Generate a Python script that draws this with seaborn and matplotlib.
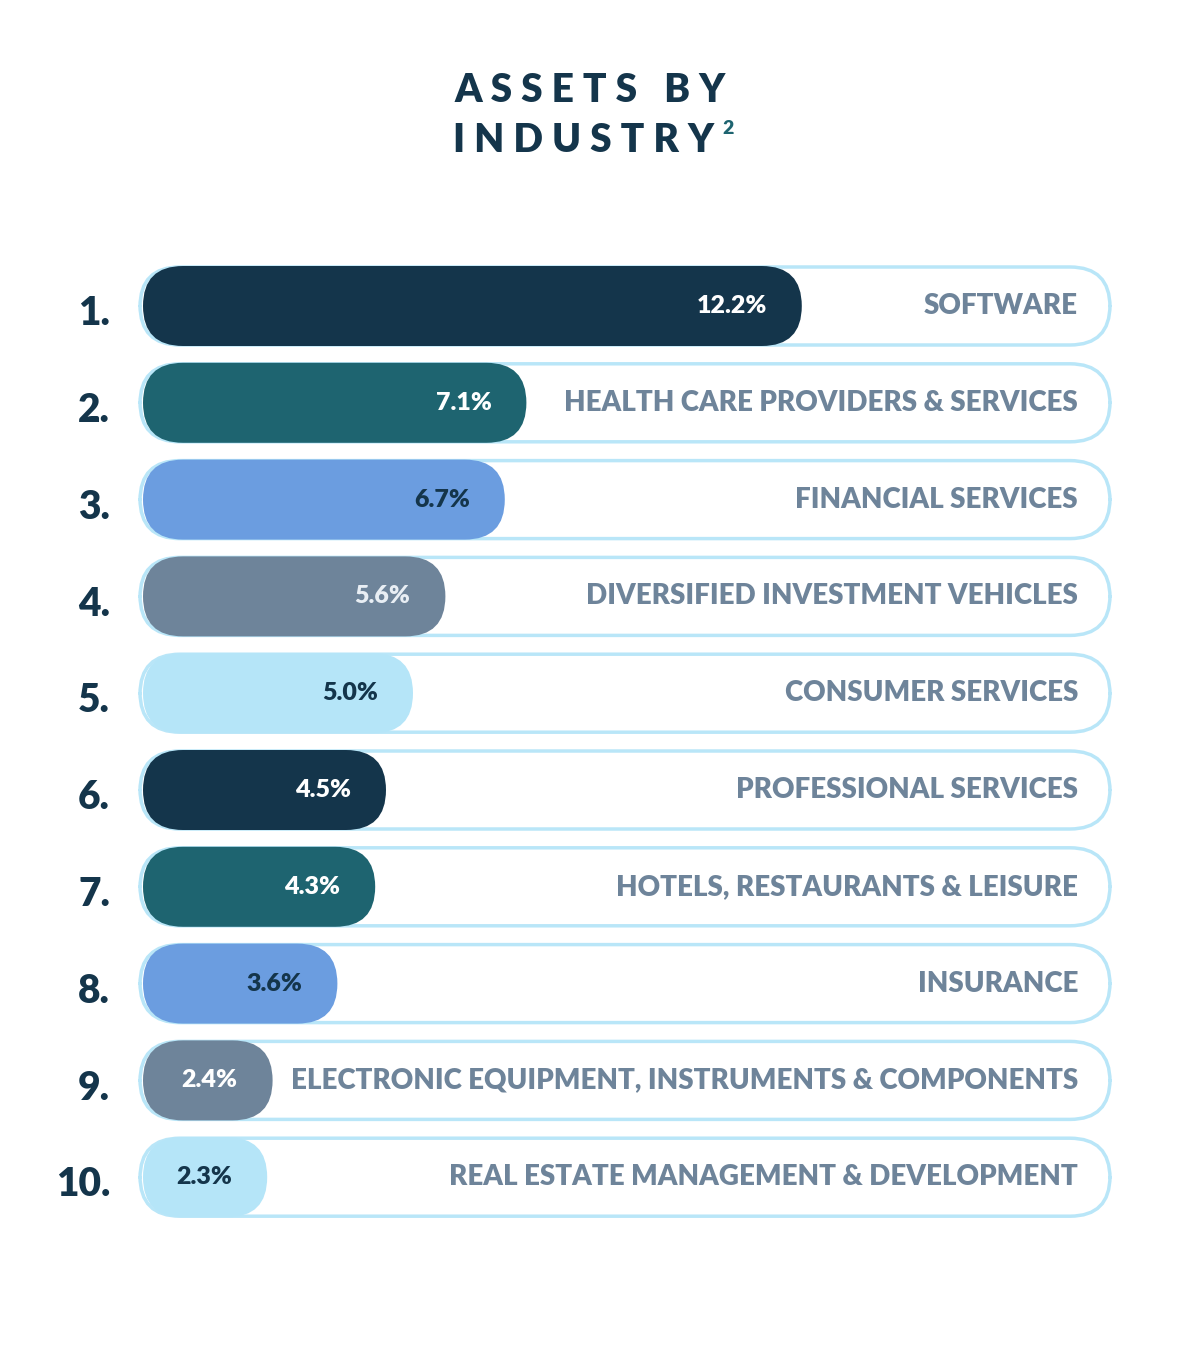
import matplotlib
matplotlib.use("Agg")
import matplotlib.pyplot as plt
import seaborn as sns
import pandas as pd
from matplotlib.patches import FancyBboxPatch

categories = ["SOFTWARE", "HEALTH CARE PROVIDERS & SERVICES", "FINANCIAL SERVICES",
              "DIVERSIFIED INVESTMENT VEHICLES", "CONSUMER SERVICES", "PROFESSIONAL SERVICES",
              "HOTELS, RESTAURANTS & LEISURE", "INSURANCE",
              "ELECTRONIC EQUIPMENT, INSTRUMENTS & COMPONENTS",
              "REAL ESTATE MANAGEMENT & DEVELOPMENT"]
values = [12.2, 7.1, 6.7, 5.6, 5.0, 4.5, 4.3, 3.6, 2.4, 2.3]
ranks = ["1.", "2.", "3.", "4.", "5.", "6.", "7.", "8.", "9.", "10."]

palette = ["#14354b", "#1e6470", "#6b9de0", "#6e849a", "#b5e5f8"]
bar_colors = [palette[i % 5] for i in range(len(values))]
label_colors = ["#ffffff", "#ffffff", "#14354b", "#e8eef4", "#14354b",
                "#ffffff", "#ffffff", "#14354b", "#ffffff", "#14354b"]
NAVY = "#14354b"
GREY = "#6e849a"
OUTLINE = "#b9e6f8"
FONT = "Lato"

PXX = 54.0   # px per percent
PXY = 96.8   # px per row
X0 = 143
Y0 = 306

fig = plt.figure(figsize=(12, 13.5), dpi=100)
ax = fig.add_axes([0, 0, 1, 1])
df = pd.DataFrame({"cat": categories, "val": values})
sns.barplot(data=df, x="val", y="cat", orient="h", width=80 / PXY,
            palette=bar_colors, hue="cat", legend=False, saturation=1, ax=ax)
ax.set_xlim(-X0 / PXX, (1200 - X0) / PXX)
ax.set_ylim((1350 - Y0) / PXY, -Y0 / PXY)
ax.axis("off")

aspect = PXX / PXY
rad = 40 / PXX
xl = (140 - X0) / PXX
xr = (1110 - X0) / PXX
oh = 78 / PXY
for i, p in enumerate(list(ax.patches)):
    x, y, w, h = p.get_x(), p.get_y(), p.get_width(), p.get_height()
    p.remove()
    outline = FancyBboxPatch((xl, i - oh / 2), xr - xl, oh,
                             boxstyle=f"round,pad=0,rounding_size={rad}",
                             mutation_aspect=aspect, fc="white", ec=OUTLINE, lw=2.5, zorder=1)
    ax.add_patch(outline)
    bar = FancyBboxPatch((x, y), w, h,
                         boxstyle=f"round,pad=0,rounding_size={rad}",
                         mutation_aspect=aspect, fc=bar_colors[i], ec="none", zorder=2)
    ax.add_patch(bar)
    ax.text(w - 35 / PXX, i, f"{values[i]:.1f}%", ha="right", va="center",
            color=label_colors[i], fontsize=18, fontweight="heavy", family=FONT, zorder=3)
    ax.text((1078 - X0) / PXX, i, categories[i], ha="right", va="center",
            color=GREY, fontsize=20, fontweight="heavy", family=FONT, zorder=3)
    ax.text((110 - X0) / PXX, i + 0.08, ranks[i], ha="right", va="center",
            color=NAVY, fontsize=28, fontweight="heavy", family=FONT, zorder=3)

fig.text(590 / 1200, 1 - 90 / 1350, "A S S E T S   B Y", ha="center", va="center",
         color=NAVY, fontsize=28, fontweight="heavy", family=FONT)
fig.text(584 / 1200, 1 - 140 / 1350, "I N D U S T R Y", ha="center", va="center",
         color=NAVY, fontsize=28, fontweight="heavy", family=FONT)
fig.text(728 / 1200, 1 - 128 / 1350, "2", ha="center", va="center",
         color="#1e6470", fontsize=14, fontweight="heavy", family=FONT)

fig.savefig("out.png", dpi=100, facecolor="white")
